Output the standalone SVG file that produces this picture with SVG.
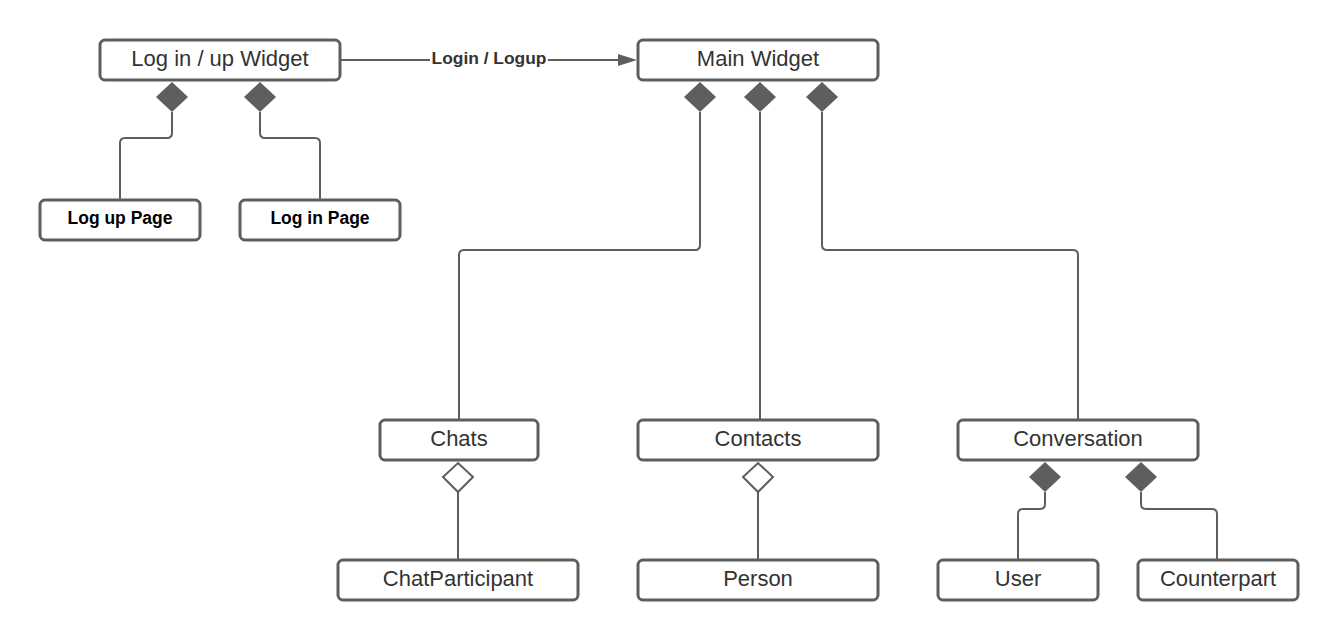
<svg xmlns="http://www.w3.org/2000/svg" width="1339" height="640" viewBox="0 0 1339 640">
<style>
.box{fill:#fff;stroke:#5e5e5e;stroke-width:3}
.t{font-family:"Liberation Sans",Arial,sans-serif;font-size:22px;fill:#333;text-anchor:middle}
.tb{font-family:"Liberation Sans",Arial,sans-serif;font-size:17.5px;font-weight:bold;fill:#000;text-anchor:middle}
.ln{fill:none;stroke:#5e5e5e;stroke-width:2;stroke-linejoin:round}
.df{fill:#5e5e5e;stroke:none}
.dh{fill:#fff;stroke:#5e5e5e;stroke-width:2}
</style>
<rect width="1339" height="640" fill="#fff"/>
<g id="connectors">
<path class="ln" d="M172,112 V133 Q172,138 167,138 H125 Q120,138 120,143 V200"/>
<path class="ln" d="M260,112 V133 Q260,138 265,138 H315 Q320,138 320,143 V200"/>
<path class="ln" d="M700,112 V245 Q700,250 695,250 H464 Q459,250 459,255 V420"/>
<path class="ln" d="M760,112 V420"/>
<path class="ln" d="M822,112 V245 Q822,250 827,250 H1073 Q1078,250 1078,255 V420"/>
<path class="ln" d="M458,492 V560"/>
<path class="ln" d="M758,492 V560"/>
<path class="ln" d="M1045,492 V504 Q1045,509 1040,509 H1023 Q1018,509 1018,514 V560"/>
<path class="ln" d="M1141,492 V504 Q1141,509 1146,509 H1212 Q1217,509 1217,514 V560"/>
<path class="ln" d="M340,60 H620"/>
<polygon class="df" points="618,54 637,60 618,66"/>
<rect x="430" y="47" width="118" height="22" fill="#fff"/>
<text x="489" y="64" font-family="Liberation Sans, Arial, sans-serif" font-size="17.4" font-weight="bold" fill="#333" text-anchor="middle">Login / Logup</text>
<polygon class="df" points="172,82 188,97 172,112 156,97"/>
<polygon class="df" points="260,82 276,97 260,112 244,97"/>
<polygon class="df" points="700,82 716,97 700,112 684,97"/>
<polygon class="df" points="760,82 776,97 760,112 744,97"/>
<polygon class="df" points="822,82 838,97 822,112 806,97"/>
<polygon class="dh" points="458,463 473,477 458,492 443,477"/>
<polygon class="dh" points="758,463 773,477 758,492 743,477"/>
<polygon class="df" points="1045,462 1061,477 1045,492 1029,477"/>
<polygon class="df" points="1141,462 1157,477 1141,492 1125,477"/>
</g>
<g id="loginWidget"><rect class="box" x="100" y="40" width="240" height="40" rx="5"/><text class="t" x="220" y="65.5">Log in / up Widget</text></g>
<g id="mainWidget"><rect class="box" x="638" y="40" width="240" height="40" rx="5"/><text class="t" x="758" y="65.5">Main Widget</text></g>
<g id="logupPage"><rect class="box" x="40" y="200" width="160" height="40" rx="5"/><text class="tb" x="120" y="223.5">Log up Page</text></g>
<g id="loginPage"><rect class="box" x="240" y="200" width="160" height="40" rx="5"/><text class="tb" x="320" y="223.5">Log in Page</text></g>
<g id="chats"><rect class="box" x="380" y="420" width="158" height="40" rx="5"/><text class="t" x="459" y="445.5">Chats</text></g>
<g id="contacts"><rect class="box" x="638" y="420" width="240" height="40" rx="5"/><text class="t" x="758" y="445.5">Contacts</text></g>
<g id="conversation"><rect class="box" x="958" y="420" width="240" height="40" rx="5"/><text class="t" x="1078" y="445.5">Conversation</text></g>
<g id="chatParticipant"><rect class="box" x="338" y="560" width="240" height="40" rx="5"/><text class="t" x="458" y="585.5">ChatParticipant</text></g>
<g id="person"><rect class="box" x="638" y="560" width="240" height="40" rx="5"/><text class="t" x="758" y="585.5">Person</text></g>
<g id="user"><rect class="box" x="938" y="560" width="160" height="40" rx="5"/><text class="t" x="1018" y="585.5">User</text></g>
<g id="counterpart"><rect class="box" x="1138" y="560" width="160" height="40" rx="5"/><text class="t" x="1218" y="585.5">Counterpart</text></g>
</svg>
